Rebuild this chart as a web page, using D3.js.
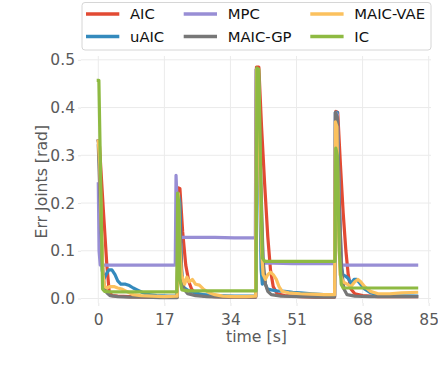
<!DOCTYPE html>
<html><head><meta charset="utf-8">
<script src="https://cdn.jsdelivr.net/npm/d3@7"></script>
<style>body{margin:0;background:#fff}svg{display:block}text{font-family:"DejaVu Sans",sans-serif}</style>
</head><body>
<svg id="c" width="438" height="376"></svg>
<script>
const seriesNames = ["AIC","uAIC","MPC","MAIC-GP","MAIC-VAE","IC"];
const seriesColors = ["#E24A33","#348ABD","#988ED5","#777777","#FBC15E","#8EBA42"];
const xTicks = [0,17,34,51,68,85];
const yTicks = [0.0,0.1,0.2,0.3,0.4,0.5];

const aicT = [0,0.3,1.3,2.2,2.8,3.5,5,8,12,16,20.3,20.6,21,21.7,22.5,23.3,24,25,27,30,35,40.5,40.7,41.3,42,42.8,43.6,44.3,45,46,48,52,56,60.8,61.1,61.6,62.3,63,63.7,64.3,65,66,68,72,76,81.9];
const aicV = [0.33,0.32,0.185,0.07,0.015,0.006,0.005,0.004,0.003,0.003,0.003,0.232,0.23,0.14,0.07,0.035,0.02,0.01,0.006,0.004,0.003,0.003,0.485,0.485,0.36,0.24,0.13,0.06,0.025,0.01,0.006,0.004,0.003,0.003,0.392,0.39,0.28,0.18,0.1,0.05,0.02,0.01,0.006,0.004,0.004,0.004];

const uaicT = [0,0.3,0.7,1.0,1.4,2,2.7,3.5,4.3,5,5.8,7,8,9,10,11.5,13,15,18,20.3,20.6,21,21.4,21.8,22.5,23.5,25,27,30,35,40.5,40.7,41.2,41.6,41.9,42.2,42.6,43,43.5,44.5,46,48,50,52,55,58,60.8,61,61.5,62,62.4,62.9,63.6,64.3,65,65.8,66.5,67.5,68.5,70,72,75,81.9];
const uaicV = [0.33,0.3,0.15,0.06,0.04,0.05,0.06,0.06,0.05,0.037,0.03,0.03,0.027,0.022,0.018,0.012,0.008,0.006,0.005,0.005,0.22,0.2,0.06,0.025,0.02,0.015,0.012,0.008,0.006,0.005,0.005,0.48,0.48,0.2,0.06,0.03,0.045,0.03,0.02,0.018,0.016,0.015,0.013,0.012,0.01,0.008,0.007,0.39,0.39,0.2,0.08,0.05,0.047,0.042,0.032,0.04,0.04,0.03,0.02,0.012,0.008,0.006,0.005];

const mpcT = [0,0.2,0.5,5,10,15,19.8,20,20.3,20.6,25,30,35,40.4,40.6,41.2,41.8,42.4,45,50,55,60.8,61,61.5,62,62.6,65,70,75,81.9];
const mpcV = [0.24,0.1,0.07,0.07,0.07,0.07,0.07,0.258,0.2,0.128,0.128,0.128,0.127,0.127,0.48,0.47,0.2,0.074,0.074,0.073,0.073,0.073,0.39,0.385,0.2,0.07,0.07,0.07,0.07,0.07];

const gpT = [0,0.5,1,1.5,2.2,3,5,8,12,16,20.3,20.6,21,21.5,22,23,25,28,32,36,40.5,40.7,41.2,41.8,42.4,43,43.6,44.5,47,52,56,60.8,61,61.5,62,62.6,63.2,64,66,70,75,81.9];
const gpV = [0.32,0.2,0.08,0.03,0.012,0.006,0.004,0.003,0.003,0.002,0.002,0.2,0.15,0.05,0.02,0.01,0.006,0.004,0.003,0.003,0.003,0.48,0.47,0.25,0.08,0.03,0.015,0.008,0.005,0.004,0.003,0.003,0.39,0.38,0.2,0.06,0.02,0.008,0.005,0.004,0.004,0.004];

const vaeT = [0,0.4,0.8,1.2,1.6,2.2,3,4,5,6,7,8,9,11,14,17,20.3,20.6,21,21.4,21.8,22.2,22.8,23.4,24.2,25,26,27,28.5,30,32,35,38,40.5,40.7,41.2,41.6,42,42.4,43,43.6,44.3,45,45.8,46.5,47.3,49,52,55,58,60.8,61,61.4,61.8,62.2,63,64,65,66,66.8,67.5,68.5,70,72,75,78,81.9];
const vaeV = [0.33,0.28,0.15,0.05,0.025,0.022,0.025,0.025,0.022,0.02,0.016,0.012,0.008,0.006,0.005,0.004,0.005,0.22,0.1,0.05,0.04,0.03,0.045,0.035,0.04,0.03,0.028,0.02,0.012,0.008,0.005,0.004,0.004,0.005,0.48,0.47,0.25,0.1,0.05,0.04,0.05,0.055,0.05,0.04,0.025,0.015,0.012,0.01,0.009,0.008,0.008,0.37,0.36,0.15,0.05,0.035,0.03,0.025,0.035,0.04,0.035,0.025,0.015,0.01,0.01,0.012,0.013];

const icT = [0,0.15,1.1,1.6,3,10,20.2,20.4,20.7,21,21.5,23,30,40.6,40.8,41.3,41.7,42.2,42.8,50,60.9,61.1,61.5,62,62.5,63,70,81.9];
const icV = [0.457,0.457,0.02,0.015,0.014,0.014,0.014,0.221,0.2,0.04,0.018,0.016,0.016,0.016,0.483,0.48,0.3,0.085,0.078,0.078,0.078,0.315,0.3,0.1,0.03,0.022,0.022,0.022];

const seriesT = [aicT,uaicT,mpcT,gpT,vaeT,icT];
const seriesV = [aicV,uaicV,mpcV,gpV,vaeV,icV];

const svg = d3.select("#c");
const L = 81, R = 431, T = 56, B = 303;
const x = d3.scaleLinear().domain([-4.45, 85.6]).range([L, R]);
const y = d3.scaleLinear().domain([-0.0094, 0.508]).range([B, T]);

// grid
const g = svg.append("g");
g.selectAll(".gx").data(xTicks).join("line")
  .attr("x1", d => x(d)).attr("x2", d => x(d)).attr("y1", T).attr("y2", B)
  .attr("stroke", "#ebebeb").attr("stroke-width", 1);
g.selectAll(".gy").data(yTicks).join("line")
  .attr("x1", L).attr("x2", R).attr("y1", d => y(d)).attr("y2", d => y(d))
  .attr("stroke", "#ebebeb").attr("stroke-width", 1);

// axes
const xAxis = d3.axisBottom(x).tickValues(xTicks).tickSize(3).tickPadding(8).tickFormat(d3.format("d"));
const yAxis = d3.axisLeft(y).tickValues(yTicks).tickSize(3).tickPadding(3).tickFormat(d3.format(".1f"));
const xa = svg.append("g").attr("transform", `translate(0,${B})`).call(xAxis);
const ya = svg.append("g").attr("transform", `translate(${L},0)`).call(yAxis);
[xa, ya].forEach(a => {
  a.select(".domain").remove();
  a.selectAll(".tick line").attr("stroke", "#e6e6e6");
  a.selectAll(".tick text").attr("fill", "#5a5a5a").style("font-size", "15.5px").style("font-family", "DejaVu Sans");
});

// lines
const line = d3.line().x(d => x(d[0])).y(d => y(d[1]));
seriesNames.forEach((n, i) => {
  const pts = seriesT[i].map((t, j) => [t, seriesV[i][j]]);
  svg.append("path").datum(pts).attr("d", line)
    .attr("fill", "none").attr("stroke", seriesColors[i]).attr("stroke-width", 3.2)
    .attr("stroke-linejoin", "round").attr("stroke-linecap", "square");
});

// labels
svg.append("text").attr("x", 256.5).attr("y", 342).attr("text-anchor", "middle")
  .attr("fill", "#5a5a5a").style("font-size", "15.7px").text("time [s]");
svg.append("text").attr("transform", "translate(47,181.7) rotate(-90)").attr("text-anchor", "middle")
  .attr("fill", "#5a5a5a").style("font-size", "15.7px").text("Err Joints [rad]");

// legend
const lg = svg.append("g");
lg.append("rect").attr("x", 82).attr("y", 2.5).attr("width", 349).attr("height", 47.5).attr("rx", 3)
  .attr("fill", "#fff").attr("fill-opacity", 0.9).attr("stroke", "#d6d6d6").attr("stroke-width", 1);
const colX = [86, 183.7, 310.3];
const rowY = [14, 36.5];
seriesNames.forEach((n, i) => {
  const c = Math.floor(i / 2), r = i % 2;
  lg.append("line").attr("x1", colX[c]).attr("x2", colX[c] + 33.3).attr("y1", rowY[r]).attr("y2", rowY[r])
    .attr("stroke", seriesColors[i]).attr("stroke-width", 3.5);
  lg.append("text").attr("x", colX[c] + 44).attr("y", rowY[r]).attr("dy", "0.36em")
    .attr("fill", "#111").style("font-size", "14.8px").text(n);
});
</script>
</body></html>
